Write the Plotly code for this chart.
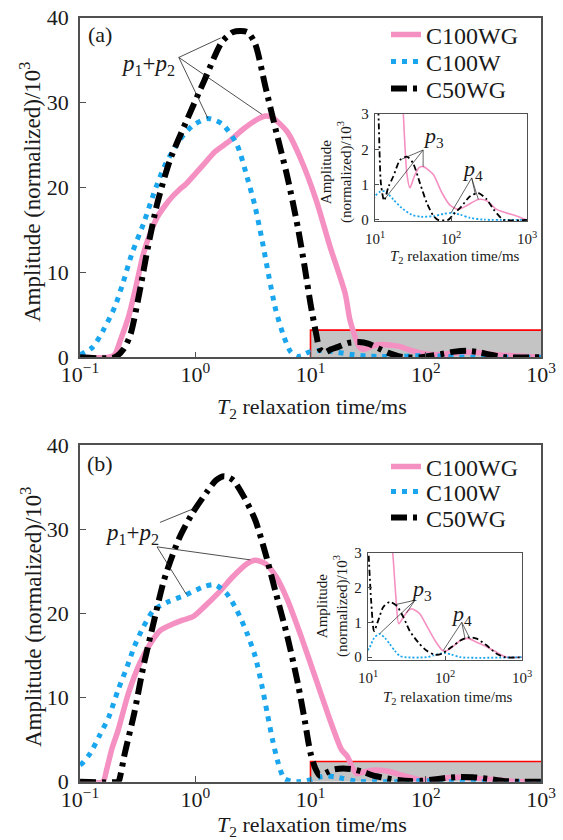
import numpy as np
import plotly.graph_objects as go

# ---------------- data (T2 in ms, amplitude in 10^3) ----------------
# Panel (a)
A_X_C100WG = [0.1, 0.178, 0.2, 0.224, 0.263, 0.302, 0.355, 0.407, 0.468, 0.55, 0.631, 0.724, 0.832, 1.0, 1.2,
              1.48, 2.0, 2.63, 3.55, 4.07, 4.57, 5.01, 6.31, 8.32, 11.2, 14.8, 20.0, 21.9, 23.6, 26.3,
              28.8, 33.1, 38.0, 43.3, 50.0, 58.9, 75.9, 97.7, 126, 162, 229, 295, 398, 537, 724, 933, 1000]
A_Y_C100WG = [0, 0, 0.3, 2.0, 4.7, 8.0, 12.2, 14.6, 16.5, 17.9, 18.9, 19.7, 20.4, 21.6, 22.8,
              24.2, 25.5, 26.9, 28.1, 28.4, 28.3, 27.9, 26.5, 23.2, 18.5, 13.0, 7.5, 4.5, 3.0, 1.3,
              0.91, 1.25, 1.48, 1.51, 1.42, 1.28, 0.77, 0.41, 0.30, 0.41, 0.58, 0.54, 0.30, 0.20, 0.11, 0.02, 0]

A_X_C100W = [0.1, 0.129, 0.158, 0.2, 0.234, 0.282, 0.355, 0.437, 0.537, 0.724, 0.955, 1.29, 1.70, 2.29, 2.82,
             3.31, 3.80, 4.37, 5.01, 5.89, 6.76, 7.76, 8.5, 9.12, 10.0, 11.7, 13.5, 17.4, 22.4, 30.2,
             40.7, 58.9, 79.4, 102, 132, 178, 269, 1000]
A_Y_C100W = [0.3, 1.2, 3.1, 5.9, 8.6, 12.2, 15.7, 19.3, 22.4, 25.5, 27.3, 28.1, 27.5, 25.1, 21.2,
             17.7, 13.8, 9.4, 5.5, 2.4, 0.6, 0.1, 0.2, 0.45, 0.67, 0.80, 0.81, 0.58, 0.34, 0.15,
             0.09, 0.11, 0.17, 0.20, 0.15, 0.06, 0.01, 0]

A_X_C50WG = [0.1, 0.2, 0.24, 0.275, 0.331, 0.389, 0.468, 0.603, 0.832, 1.2, 1.70, 2.14, 2.82, 3.31, 4.07,
             5.01, 6.31, 7.76, 8.91, 10.0, 11.2, 12.0, 13.2, 15.1, 17.4, 21.4, 26.3, 31.6, 38.9, 47.9,
             58.9, 67.6, 91.2, 107, 138, 178, 229, 295, 363, 447, 490, 1000]
A_Y_C50WG = [0, 0, 1.0, 2.75, 7.9, 13.0, 18.1, 23.2, 27.7, 32.6, 37.1, 38.3, 38.3, 36.9, 31.8,
             26.7, 21.2, 15.3, 10.6, 6.3, 2.75, 1.0, 0.55, 0.95, 1.23, 1.70, 1.79, 1.61, 1.05, 0.49,
             0.11, 0, 0, 0.15, 0.39, 0.67, 0.76, 0.58, 0.30, 0.07, 0, 0]

# Panel (b)
B_X_C100WG = [0.1, 0.158, 0.17, 0.19, 0.214, 0.263, 0.331, 0.407, 0.501, 0.631, 0.776, 0.955, 1.2, 1.58, 2.14,
              2.82, 3.31, 4.07, 5.01, 6.31, 8.32, 11.2, 14.8, 18.6, 20.9, 22.9, 25.1, 28.8, 33.1, 36.8,
              46.8, 57.5, 74.1, 91.2, 100, 123, 158, 200, 257, 347, 468, 631, 1000]
B_Y_C100WG = [0, 0, 1.4, 4.0, 6.1, 10.5, 14.1, 16.4, 18.0, 18.7, 19.2, 19.6, 20.8, 22.4, 24.4,
              25.9, 26.3, 25.9, 24.4, 21.6, 17.2, 12.1, 7.3, 3.8, 3.0, 1.8, 0.96, 1.15, 1.33, 1.39,
              1.25, 0.91, 0.48, 0.21, 0.17, 0.28, 0.48, 0.54, 0.43, 0.30, 0.14, 0, 0]

B_X_C100W = [0.1, 0.105, 0.123, 0.148, 0.178, 0.214, 0.257, 0.295, 0.355, 0.437, 0.589, 0.832, 1.2, 1.48, 1.86,
             2.29, 2.82, 3.31, 3.80, 4.22, 4.68, 5.25, 5.89, 6.76, 7.94, 9.12, 10.5, 12.0, 14.1, 16.6,
             19.1, 22.4, 25.7, 30.2, 57.5, 70.8, 85.1, 100, 120, 158, 1000]
B_Y_C100W = [2.0, 2.2, 3.4, 5.5, 7.7, 10.9, 13.7, 16.0, 18.4, 20.4, 21.4, 22.2, 23.2, 23.4, 22.4,
             20.4, 17.6, 14.9, 11.3, 8.1, 5.0, 2.2, 0.4, 0.05, 0, 0.1, 0.28, 0.55, 0.67, 0.55,
             0.38, 0.18, 0.04, 0, 0, 0.05, 0.1, 0.12, 0.08, 0, 0]

B_X_C50WG = [0.1, 0.214, 0.219, 0.245, 0.295, 0.355, 0.437, 0.537, 0.724, 0.955, 1.29, 1.51, 1.78, 2.14, 2.63,
             3.31, 4.07, 5.01, 6.31, 7.76, 8.91, 10.0, 11.0, 12.0, 13.8, 15.8, 19.1, 23.4, 28.8, 34.7,
             44.7, 57.5, 74.1, 91.2, 123, 158, 200, 257, 347, 468, 603, 1000]
B_Y_C50WG = [0, 0, 0.2, 3.4, 8.1, 13.7, 19.0, 24.0, 28.9, 32.0, 34.6, 35.8, 36.3, 35.8, 33.9,
             31.1, 27.1, 22.4, 17.2, 11.7, 7.3, 3.4, 1.6, 0.75, 1.1, 1.44, 1.58, 1.48, 1.15, 0.76,
             0.43, 0.19, 0.07, 0.1, 0.30, 0.48, 0.57, 0.53, 0.34, 0.10, 0, 0]

SERIES = ["C100WG", "C100W", "C50WG"]
X_TICKS_MAIN = [0.1, 1, 10, 100, 1000]
X_TICKTEXT_MAIN = ["10<sup>−1</sup>", "10<sup>0</sup>", "10<sup>1</sup>", "10<sup>2</sup>", "10<sup>3</sup>"]
Y_TICKS_MAIN = [0, 10, 20, 30, 40]
X_TICKS_INSET = [10, 100, 1000]
X_TICKTEXT_INSET = ["10<sup>1</sup>", "10<sup>2</sup>", "10<sup>3</sup>"]
Y_TICKS_INSET = [0, 1, 2, 3]

# shaded T2 > 10 ms region heights (10^3)
BOX_X = [10, 1000]
BOX_H_A = 3.2
BOX_H_B = 2.4

# ---------------- styling ----------------
FONT = "Liberation Serif"
PINK = "#f590c2"
BLUE = "#1aa6ee"
BLACK = "#000000"
AXC = "#505050"
TXT = "#1a1a1a"
W, H = 563, 840

fig = go.Figure()


def interp(xs, ys, x):
    return float(np.interp(np.log10(x), np.log10(xs), ys))


def add_panel(xa, ya, xi, yi, data, box_h, legends):
    fig.add_trace(go.Scatter(x=[BOX_X[0], BOX_X[1], BOX_X[1], BOX_X[0], BOX_X[0]],
                             y=[0, 0, box_h, box_h, 0], mode="lines", fill="toself",
                             fillcolor="#c4c4c4", line=dict(width=0), hoverinfo="skip",
                             showlegend=False, xaxis=xa, yaxis=ya))
    fig.add_trace(go.Scatter(x=[BOX_X[0], BOX_X[0], BOX_X[1]], y=[0, box_h, box_h], mode="lines",
                             line=dict(color="#ff0000", width=1.6), showlegend=False, hoverinfo="skip",
                             xaxis=xa, yaxis=ya))
    styles_main = [dict(color=PINK, width=5.5),
                   dict(color=BLUE, width=5, dash="5px,6px"),
                   dict(color=BLACK, width=6, dash="16px,6px,4px,6px")]
    styles_inset = [dict(color=PINK, width=1.6),
                    dict(color=BLUE, width=1.8, dash="2px,2px"),
                    dict(color=BLACK, width=1.8, dash="6px,3px,2px,3px")]
    for name, (xs, ys), sm, si, lg in zip(SERIES, data, styles_main, styles_inset, legends):
        fig.add_trace(go.Scatter(x=xs, y=ys, mode="lines", name=name,
                                 line=dict(shape="spline", smoothing=0.7, **sm),
                                 xaxis=xa, yaxis=ya, legend=lg))
        fig.add_trace(go.Scatter(x=xs, y=ys, mode="lines", name=name, showlegend=False,
                                 line=dict(shape="spline", smoothing=0.7, **si), xaxis=xi, yaxis=yi))


add_panel("x", "y", "x2", "y2",
          [(A_X_C100WG, A_Y_C100WG), (A_X_C100W, A_Y_C100W), (A_X_C50WG, A_Y_C50WG)], BOX_H_A,
          ["legend", "legend2", "legend3"])
add_panel("x3", "y3", "x4", "y4",
          [(B_X_C100WG, B_Y_C100WG), (B_X_C100W, B_Y_C100W), (B_X_C50WG, B_Y_C50WG)], BOX_H_B,
          ["legend4", "legend5", "legend6"])


def leaders(apex, targets, xa, ya, width=0.8):
    xs, ys = [], []
    for (tx, ty) in targets:
        xs += [apex[0], tx, None]
        ys += [apex[1], ty, None]
    fig.add_trace(go.Scatter(x=xs, y=ys, mode="lines", line=dict(color="#222", width=width),
                             showlegend=False, hoverinfo="skip", xaxis=xa, yaxis=ya))


# (a) main p1+p2
leaders((0.72, 35.3), [(1.66, interp(A_X_C50WG, A_Y_C50WG, 1.66) + 0.8),
                       (A_X_C100WG[int(np.argmax(A_Y_C100WG))] * 0.93, max(A_Y_C100WG) + 0.2),
                       (A_X_C100W[int(np.argmax(A_Y_C100W))], max(A_Y_C100W))], "x", "y")
# (a) inset p3, p4
leaders((43, 1.98), [(22.4, interp(A_X_C50WG, A_Y_C50WG, 22.4)), (43, interp(A_X_C100WG, A_Y_C100WG, 43)),
                     (13.5, 0.6)], "x2", "y2", 0.7)
leaders((187, 1.19), [(100, interp(A_X_C100W, A_Y_C100W, 100)), (209, interp(A_X_C50WG, A_Y_C50WG, 209)),
                      (229, interp(A_X_C100WG, A_Y_C100WG, 229))], "x2", "y2", 0.7)
# (b) main p1+p2
leaders((0.494, 30.8), [(1.02, interp(B_X_C50WG, B_Y_C50WG, 1.02))], "x3", "y3")
leaders((0.466, 27.9), [(3.0, interp(B_X_C100WG, B_Y_C100WG, 3.0) + 0.3),
                        (0.84, interp(B_X_C100W, B_Y_C100W, 0.84))], "x3", "y3")
# (b) inset p3, p4
leaders((40.7, 1.63), [(22.3, interp(B_X_C50WG, B_Y_C50WG, 22.3)), (31.6, interp(B_X_C100WG, B_Y_C100WG, 31.6)),
                       (14.1, interp(B_X_C100W, B_Y_C100W, 14.1))], "x4", "y4", 0.7)
leaders((165, 1.0), [(95, interp(B_X_C100WG, B_Y_C100WG, 95)), (182, interp(B_X_C50WG, B_Y_C50WG, 182)),
                     (213, interp(B_X_C100WG, B_Y_C100WG, 213))], "x4", "y4", 0.7)


def px_dom(a, b, total):
    return [a / total, b / total]


def ydom(top, bottom):
    return [1 - bottom / H, 1 - top / H]


axis_common = dict(showline=True, mirror=True, linecolor=AXC, linewidth=1.5, ticks="inside",
                   tickcolor=AXC, showgrid=False, zeroline=False, automargin=False)

main_font = dict(family=FONT, size=22, color=TXT)
inset_font = dict(family=FONT, size=15, color=TXT)

layout = dict(
    width=W, height=H, margin=dict(l=0, r=0, t=0, b=0, pad=0, autoexpand=False),
    paper_bgcolor="white", plot_bgcolor="white", showlegend=True,
    font=dict(family=FONT, color=TXT),
)
for (xa, ya, top, bottom) in [("xaxis", "yaxis", 17.5, 357.3), ("xaxis3", "yaxis3", 445, 781.7)]:
    layout[xa] = dict(type="log", range=[-1, 3], domain=px_dom(80, 541, W),
                      anchor=ya.replace("axis", ""), tickvals=X_TICKS_MAIN, ticktext=X_TICKTEXT_MAIN,
                      ticklen=6, tickwidth=1.2, tickfont=main_font, ticklabelstandoff=-3, **axis_common)
    layout[ya] = dict(range=[0, 40], domain=ydom(top, bottom), anchor=xa.replace("axis", ""),
                      tickvals=Y_TICKS_MAIN, ticklen=6, tickwidth=1.2, tickfont=main_font,
                      ticklabelstandoff=5, **axis_common)

for (xa, ya, left, right, top, bottom, ylo) in [("xaxis2", "yaxis2", 375, 527, 114, 221, -0.03),
                                               ("xaxis4", "yaxis4", 368, 522, 552.5, 660, -0.08)]:
    layout[xa] = dict(type="log", range=[1, 3], domain=px_dom(left, right, W),
                      anchor=ya.replace("axis", ""), tickvals=X_TICKS_INSET, ticktext=X_TICKTEXT_INSET,
                      ticklen=4, tickwidth=1, tickfont=inset_font, ticklabelstandoff=4,
                      **{**axis_common, "linewidth": 1.3})
    layout[ya] = dict(range=[ylo, 3], domain=ydom(top, bottom), anchor=xa.replace("axis", ""),
                      tickvals=Y_TICKS_INSET, ticklen=4, tickwidth=1, tickfont=inset_font,
                      ticklabelstandoff=2, **{**axis_common, "linewidth": 1.3})

# one legend per entry so the rows can sit exactly where the reference has them
LEGEND_ROWS = {"legend": 35, "legend2": 62, "legend3": 89,
               "legend4": 467, "legend5": 492, "legend6": 518}
for key, row in LEGEND_ROWS.items():
    layout[key] = dict(x=386 / W, y=1 - row / H, xanchor="left", yanchor="middle",
                       font=dict(family=FONT, size=24, color=TXT), bgcolor="rgba(0,0,0,0)",
                       borderwidth=0, tracegroupgap=0)

fig.update_layout(**layout)

ann = []


def add_text(text, x, y, xref="paper", yref="paper", size=22, angle=0):
    ann.append(dict(text=text, x=x, y=y, xref=xref, yref=yref, showarrow=False, textangle=angle,
                    xanchor="center", yanchor="middle", font=dict(family=FONT, size=size, color=TXT)))


add_text("(a)", 100 / W, 1 - 35 / H)
add_text("(b)", 100 / W, 1 - 463 / H)
for yc, xt_y in [(192, 408), (617, 826)]:
    add_text("Amplitude (normalized)/10<sup>3</sup>", 31 / W, 1 - yc / H, size=23, angle=-90)
    add_text("<i>T</i><sub>2</sub> relaxation time/ms", 312 / W, 1 - xt_y / H, size=22)
for (xc, yc, xt_x, xt_y) in [(337, 172, 455, 257), (332, 606, 448, 698)]:
    add_text("Amplitude<br>(normalized)/10<sup>3</sup>", xc / W, 1 - yc / H, size=15, angle=-90)
    add_text("<i>T</i><sub>2</sub> relaxation time/ms", xt_x / W, 1 - xt_y / H, size=15)

P12 = "<i>p</i><sub>1</sub>+<i>p</i><sub>2</sub>"
add_text(P12, np.log10(0.389), 34.4, "x", "y", size=23)
add_text(P12, np.log10(0.283), 29.4, "x3", "y3", size=23)
for txt, xv, yv, xr, yr in [("<i>p</i><sub>3</sub>", 58, 2.34, "x2", "y2"),
                            ("<i>p</i><sub>4</sub>", 189, 1.42, "x2", "y2"),
                            ("<i>p</i><sub>3</sub>", 50, 1.92, "x4", "y4"),
                            ("<i>p</i><sub>4</sub>", 166, 1.22, "x4", "y4")]:
    add_text(txt, np.log10(xv), yv, xr, yr, size=22)
fig.update_layout(annotations=ann)

fig.write_html("out.html")
